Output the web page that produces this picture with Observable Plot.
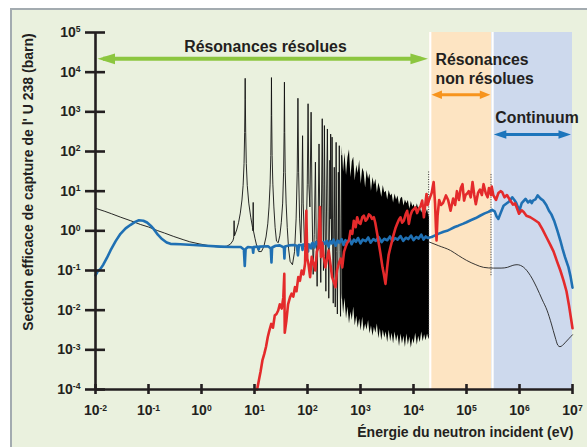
<!DOCTYPE html>
<html><head><meta charset="utf-8">
<script src="https://cdn.jsdelivr.net/npm/d3@7"></script>
<script src="https://cdn.jsdelivr.net/npm/@observablehq/plot@0.6"></script>
<style>
html,body{margin:0;padding:0;background:#fff;}
#bg{position:absolute;left:10px;top:8px;width:577px;height:439px;background:#eaf1de;border-left:2px solid #a3abb0;border-top:2px solid #a3abb0;box-sizing:border-box;}
#chart{position:absolute;left:0;top:0;}
</style></head><body><div id="bg"></div><div id="chart"></div>
<script>
// ---------- ticks ----------
const xTicks = [1e-2, 1e-1, 1e0, 1e1, 1e2, 1e3, 1e4, 1e5, 1e6, 1e7];
const xTickExps = ["-2", "-1", "0", "1", "2", "3", "4", "5", "6", "7"];
const yTicks = [1e-4, 1e-3, 1e-2, 1e-1, 1e0, 1e1, 1e2, 1e3, 1e4, 1e5];
const yTickExps = ["-4", "-3", "-2", "-1", "0", "1", "2", "3", "4", "5"];

// ---------- energy regions ----------
const regionStart = [2e4, 3e5];
const regionEnd = [3e5, 1e7];
const regionFill = ["#fde4c2", "#cdd9ed"];

// ---------- arrows & labels ----------
const arrowFrom = [1e-2, 2e4, 3e5];
const arrowTo = [2e4, 3e5, 1e7];
const arrowAt = [2.17e4, 2.69e3, 268];
const arrowColor = ["#8cc63f", "#f7941d", "#1c75bc"];
const arrowLabel = ["Résonances résolues", "Résonances\nnon résolues", "Continuum"];
const labelX = [16.1, 2.6e4, 3.5e5];
const labelY = [4.5e4, 1.22e4, 723];
const labelAnchor = ["middle", "start", "start"];

// ---------- black curve (U 238 capture) ----------
const blackResolved = [
[0.01,3.7],[0.015,3.1],[0.02,2.7],[0.03,2.2],[0.046,1.8],[0.07,1.45],[0.1,1.25],[0.146,1.02],[0.2,0.88],[0.3,0.72],[0.45,0.6],[0.6,0.53],[0.9,0.47],[1.28,0.43],[1.8,0.4],[2.4,0.39],[3.0,0.41],[3.5,0.46],[3.9,0.56],[4.05,0.66],[4.12,1.8],[4.2,0.75],[4.6,1.05],[5.0,1.6],[5.4,2.8],[5.8,6],[6.1,14],[6.35,50],[6.52,300],[6.62,2000],[6.67,7000],[6.72,2000],[6.82,300],[7.0,50],[7.3,14],[7.8,5],[8.5,2.2],[9.2,1.2],[9.35,1.0],[9.45,5.2],[9.55,1.0],[10.2,0.65],[11,0.42],[12,0.3],[13.5,0.3],[15,0.4],[16.5,0.7],[17.8,1.5],[18.8,4],[19.7,15],[20.3,80],[20.7,800],[20.9,7300],[21.1,800],[21.5,80],[22.2,15],[23.2,4],[24.5,1.2],[26,0.55],[28,0.5],[30,0.75],[32,1.6],[34,5],[35.4,30],[36.2,300],[36.7,5600],[37.2,300],[38,30],[39.5,5],[41.5,1.2],[44,0.35],[47,0.17],[52,0.14],[57,0.3],[61,2],[64,30],[66,2200],[68,30],[71,2],[75,0.5],[78,5],[80.7,250],[83,5],[88,0.4],[94,0.5],[99,15],[102.5,1600],[106,15],[111,4],[116.9,980],[122,4],[128,0.08],[134,0.8],[141,54],[146,0.6],[152,0.04],[159,2],[165,155],[171,1.5],[178,0.05],[185,12],[189.7,670],[195,5],[200,0.1],[205,15],[208.5,450],[214,3],[222,0.03],[230,12],[237.4,370],[244,3],[252,0.02],[262,4],[264,60],[268,2],[273.6,275],[280,2],[285,0.5],[291,230],[298,0.5],[306,0.015],[314,2],[320,40],[327,0.5],[334,0.012],[347,170],[356,0.3],[366,0.008],[378,1],[382,30],[390,0.5],[398,140],[410,0.3],[420,0.007],[430,2],[440,80],[451,0.02]
];
const denseE = [451,480,510,545,580,620,660,700,745,795,850,905,965,1030,1100,1170,1250,1330,1420,1510,1610,1720,1830,1950,2080,2220,2370,2520,2690,2870,3060,3260,3480,3710,3950,4210,4490,4790,5110,5450,5810,6190,6600,7040,7500,8000,8530,9100,9700,10300,11000,11800,12500,13400,14300,15200,16200,17300,18400,19600,20000];
const denseUpper = [133,30,90,25,70,110,22,55,72,18,45,28,60,15,38,30,12,33,20,27,10,22,14,20,9,16,11.4,7,13.9,9,10,6,10.4,7.5,8.5,5,8.5,6,7.5,4.5,6.5,7,4.2,6,4.8,5.8,3.5,5.5,4,4.6,3.2,4.8,3.6,4.0,2.8,3.9,3.3,2.7,3.5,2.2,3.0];
const denseLower = [0.026,0.008,0.02,0.006,0.012,0.0045,0.009,0.0055,0.012,0.004,0.007,0.0035,0.006,0.003,0.0066,0.0028,0.0045,0.0031,0.0055,0.0025,0.004,0.0022,0.0037,0.0026,0.0045,0.0019,0.0034,0.0017,0.0031,0.002,0.0028,0.0015,0.0031,0.0016,0.0026,0.0014,0.0028,0.0016,0.0024,0.0012,0.0025,0.0014,0.0022,0.00115,0.0025,0.0013,0.0021,0.0011,0.0019,0.0014,0.0026,0.0013,0.0022,0.0015,0.0028,0.0016,0.0024,0.0017,0.0025,0.0018,0.0021];
const blackHigh = [
[2e4,0.52],[3e4,0.42],[5e4,0.32],[7e4,0.24],[1e5,0.18],[1.5e5,0.14],[2.1e5,0.12],[3.2e5,0.115],[4.5e5,0.115],[5.9e5,0.12],[7.5e5,0.135],[9e5,0.14],[1.2e6,0.12],[1.6e6,0.075],[2.1e6,0.038],[2.7e6,0.018],[3.3e6,0.01],[4e6,0.0045],[4.7e6,0.0021],[5.3e6,0.0013],[5.8e6,0.0012],[6.5e6,0.0013],[7.2e6,0.0015],[8.5e6,0.0019],[1e7,0.0024]
];
const dottedAt = [2e4, 3e5];
const dottedTop = [33, 28];
const dottedBottom = [0.0023, 0.074];

// ---------- blue curve ----------
const blueCurve = [
[0.01,0.075],[0.011,0.095],[0.0124,0.11],[0.014,0.14],[0.0165,0.21],[0.0192,0.32],[0.024,0.55],[0.0296,0.84],[0.037,1.15],[0.046,1.42],[0.056,1.68],[0.066,1.85],[0.08,1.8],[0.094,1.62],[0.11,1.35],[0.126,1.1],[0.15,0.8],[0.18,0.62],[0.22,0.51],[0.26,0.47],[0.4,0.46],[0.71,0.44],[1.2,0.42],[2.3,0.4],[4,0.39],[5.5,0.39],[6.3,0.34],[6.55,0.13],[6.8,0.35],[7.5,0.39],[9.2,0.38],[9.45,0.28],[9.7,0.39],[11.5,0.4],[12,0.34],[12.5,0.4],[18,0.41],[20.3,0.36],[20.9,0.16],[21.5,0.38],[25,0.42],[30,0.43],[35.9,0.38],[36.7,0.2],[37.6,0.4],[45,0.43],[55,0.44],[63,0.42],[66,0.24],[69,0.44],[78,0.44],[80.7,0.33],[83,0.45],[100,0.42],[102.5,0.3],[105,0.46],[116.9,0.36],[120,0.47],
[125,0.5],[135,0.38],[145,0.52],[160,0.45],[170,0.55],[185,0.36],[200,0.52],[215,0.47],[230,0.56],[250,0.4],[270,0.55],[290,0.48],[310,0.6],[340,0.42],[370,0.57],[400,0.5],[440,0.62],[480,0.44],[520,0.58],[560,0.5],[620,0.64],[680,0.46],[750,0.6],[820,0.53],[900,0.66],[1000,0.48],[1100,0.6],[1250,0.55],[1400,0.68],[1550,0.5],[1750,0.62],[1950,0.56],[2200,0.7],[2500,0.52],[2800,0.63],[3200,0.58],[3600,0.72],[4000,0.55],[4500,0.66],[5000,0.6],[5700,0.74],[6400,0.56],[7200,0.67],[8000,0.62],[9000,0.76],[10000,0.58],[11200,0.7],[12500,0.64],[14000,0.8],[15500,0.6],[17000,0.72],[18500,0.66],[20000,0.68],
[2.2e4,0.7],[2.5e4,0.76],[3e4,0.85],[3.7e4,0.95],[4.3e4,1.0],[5e4,1.1],[6e4,1.25],[7e4,1.35],[8.5e4,1.5],[1e5,1.65],[1.2e5,1.85],[1.5e5,2.1],[1.8e5,2.4],[2.2e5,2.75],[2.6e5,3.0],[3e5,3.4],[3.4e5,3.1],[3.7e5,2.3],[4e5,2.0],[4.4e5,2.8],[5e5,4.3],[5.6e5,4.8],[6.3e5,5.4],[7.3e5,7],[8e5,6.0],[8.6e5,5.2],[9.3e5,4.0],[1e6,3.3],[1.1e6,5.0],[1.3e6,6.4],[1.45e6,5.2],[1.6e6,5.8],[1.7e6,5.0],[1.8e6,5.8],[2e6,6.2],[2.2e6,7.8],[2.5e6,6.5],[2.8e6,5.8],[3.2e6,4.5],[3.6e6,3.2],[4e6,2.6],[4.5e6,1.8],[5.2e6,1.0],[5.9e6,0.57],[6.5e6,0.35],[7.2e6,0.22],[8.4e6,0.12],[9.2e6,0.07],[1e7,0.037]
];

// ---------- red curve ----------
const redCurve = [
[11.2,1e-4],[12.1,1.7e-4],[13,2.8e-4],[14.1,5.4e-4],[15.3,7.9e-4],[16.5,1.2e-3],[17.8,2.1e-3],[19,3e-3],[20.7,4.5e-3],[22.3,3.6e-3],[24.1,7.3e-3],[26,8e-3],[28,9.8e-3],[30,0.014],[32.6,0.011],[35,0.021],[36.5,0.082],[37.2,0.0027],[40,0.0055],[43,0.014],[46.7,0.021],[50,0.026],[54,0.022],[58,0.038],[62,0.03],[67,0.068],[72,0.055],[77.6,0.1],[84,0.08],[90,0.15],[95,3.2],[99,0.2],[104,0.15],[112,0.068],[120,0.22],[130,0.15],[140,0.1],[150,0.3],[162,0.39],[172,4],[180,0.22],[190,0.5],[202,0.22],[217,0.12],[235,0.2],[251,0.32],[270,0.15],[291,0.068],[315,0.05],[337,0.038],[360,0.1],[390,0.15],[420,0.2],[452,0.12],[490,0.3],[523,0.39],[560,0.5],[606,0.57],[647,1.0],[701,0.84],[748,1.8],[812,1.24],[865,2.2],[930,1.6],[1000,1.5],[1080,2.2],[1157,2.4],[1250,1.8],[1337,2.0],[1440,2.6],[1545,2.4],[1650,2.0],[1787,2.2],[1900,1.6],[2065,0.84],[2385,0.26],[2600,0.12],[2755,0.082],[2960,0.046],[3185,0.12],[3400,0.25],[3683,0.39],[4000,0.6],[4257,0.84],[4600,1.2],[4922,1.5],[5300,1.9],[5690,2.2],[6100,1.6],[6577,1.8],[7100,2.6],[7603,3.2],[8175,1.5],[8800,2.5],[9445,3.2],[10900,3.9],[11700,2.8],[12600,3.6],[13600,4.2],[14600,5.8],[15700,2.2],[16800,5],[17600,8.5],[18500,4.5],[19500,5.8],[20500,7],[22000,9],[24000,17],[25500,5],[26500,1.2],[27200,0.57],[28500,2.5],[30500,6],[33000,4.5],[36000,5],[41000,7.8],[45000,6],[50000,3.2],[56000,6.5],[61000,4.5],[66000,10],[72000,6],[78000,12],[84000,15],[90000,5.8],[96000,8],[1.05e5,9],[1.1e5,10],[1.2e5,7],[1.3e5,17],[1.4e5,8],[1.5e5,4.7],[1.65e5,9],[1.8e5,11],[1.95e5,8],[2.1e5,15],[2.3e5,9],[2.5e5,7],[2.65e5,12],[2.8e5,10],[2.9e5,8],
[3e5,13],[3.2e5,8],[3.6e5,6],[4e5,9],[4.4e5,10],[4.7e5,9.5],[5.2e5,7],[5.8e5,8],[6.7e5,5.8],[7.5e5,4.6],[8.3e5,4.9],[9.8e5,2.7],[1.1e6,3.3],[1.2e6,3.0],[1.35e6,2.4],[1.6e6,2.2],[1.9e6,1.9],[2.3e6,1.6],[2.7e6,1.1],[3.3e6,0.65],[3.8e6,0.45],[4.4e6,0.3],[5.1e6,0.17],[5.9e6,0.1],[6.8e6,0.055],[7.7e6,0.03],[8.6e6,0.013],[9.5e6,0.0055],[1e7,0.0035]
];

// ---------- build ----------
const ink = "#231f20";
const denseBand = denseE.map((e, i) => ({E: e, lo: denseLower[i], hi: denseUpper[i]}));
const idx2 = [0, 1];
const idx3 = [0, 1, 2];
const head = (len, half, dir) => ({draw(ctx) {
  ctx.moveTo(0, 0); ctx.lineTo(dir * len, -half); ctx.lineTo(dir * len, half); ctx.closePath();
}});
const headSizes = [[17.5, 5.4, 4], [10.5, 4.2, 3], [12.5, 4.3, 3]];

const arrowMarks = idx3.flatMap(i => [
  Plot.ruleY([i], {y: d => arrowAt[d], x1: d => arrowFrom[d], x2: d => arrowTo[d], stroke: arrowColor[i], strokeWidth: headSizes[i][2], insetLeft: 8, insetRight: 8}),
  Plot.dot([i], {x: d => arrowFrom[d], y: d => arrowAt[d], symbol: head(headSizes[i][0], headSizes[i][1], 1), r: 3, fill: arrowColor[i], stroke: "none", dx: 2}),
  Plot.dot([i], {x: d => arrowTo[d], y: d => arrowAt[d], symbol: head(headSizes[i][0], headSizes[i][1], -1), r: 3, fill: arrowColor[i], stroke: "none", dx: -1.5}),
  Plot.text([i], {x: d => labelX[d], y: d => labelY[d], text: d => arrowLabel[d], textAnchor: labelAnchor[i], fontSize: 15.8, fontWeight: "bold", fill: ink, lineHeight: 1.17})
]);

const plot = Plot.plot({
  width: 587, height: 447,
  marginLeft: 95, marginRight: 15, marginTop: 32, marginBottom: 58,
  style: {background: "transparent", fontFamily: "'Liberation Sans', Arial, Helvetica, sans-serif", overflow: "visible"},
  x: {type: "log", domain: [1e-2, 1e7]},
  y: {type: "log", domain: [1e-4, 1e5]},
  marks: [
    Plot.rect(idx2, {x1: i => regionStart[i], x2: i => regionEnd[i], y1: 1e-4, y2: 1e5, fill: i => regionFill[i]}),
    Plot.ruleX(idx2, {x: i => regionStart[i], y1: 1e-4, y2: 1e5, stroke: "#ffffff", strokeWidth: 2.2, dx: 0.8}),
    Plot.areaY(denseBand, {x: "E", y1: "lo", y2: "hi", fill: "#000", curve: "linear"}),
    Plot.line(blackResolved, {x: d => d[0], y: d => d[1], stroke: "#111", strokeWidth: 0.9}),
    Plot.line(blackHigh, {x: d => d[0], y: d => d[1], stroke: "#222", strokeWidth: 0.9, curve: "monotone-x"}),
    Plot.ruleX(idx2, {x: i => dottedAt[i], y1: i => dottedBottom[i], y2: i => dottedTop[i], stroke: "#333", strokeWidth: 1, strokeDasharray: "1,1.5", dx: -0.8}),
    Plot.line(blueCurve, {x: d => d[0], y: d => d[1], stroke: "#1f70b3", strokeWidth: 2.6, strokeLinejoin: "round"}),
    Plot.line(redCurve, {x: d => d[0], y: d => d[1], stroke: "#e42a2b", strokeWidth: 2.6, strokeLinejoin: "round"}),
    Plot.ruleX([1e-2], {y1: 1e-4, y2: 1e5, stroke: ink, strokeWidth: 2.6}),
    Plot.ruleY([1e-4], {x1: 1e-2, x2: 1e7, stroke: ink, strokeWidth: 2.6}),
    Plot.axisY({ticks: yTicks, tickSize: 20, dx: 10, tickFormat: () => "", stroke: ink, strokeWidth: 2.6, label: null}),
    Plot.axisY({ticks: yTicks, tickSize: 0, tickPadding: 15, tickFormat: d => yTickExps[yTicks.indexOf(d)], fontSize: 14, fontWeight: "bold", fill: ink, label: null}),
    Plot.axisX({ticks: xTicks, tickSize: 10, dy: -5, tickFormat: () => "", stroke: ink, strokeWidth: 2.6, label: null}),
    Plot.axisX({ticks: xTicks, tickSize: 0, tickPadding: 16, tickFormat: d => xTickExps[xTicks.indexOf(d)], fontSize: 14, fontWeight: "bold", fill: ink, label: null}),
    ...arrowMarks,
    Plot.text(["Énergie du neutron incident (eV)"], {frameAnchor: "bottom-right", textAnchor: "end", lineAnchor: "middle", dx: 1, dy: 43.5, fontSize: 14, fontWeight: "bold", fill: ink}),
    Plot.text(["Section efficace de capture de l' U 238 (barn)"], {frameAnchor: "left", textAnchor: "middle", lineAnchor: "middle", rotate: -90, dx: -67, dy: -29, fontSize: 14, fontWeight: "bold", fill: ink})
  ]
});

// superscript exponents on tick labels
d3.select(plot).selectAll('g[aria-label="x-axis tick label"] text, g[aria-label="y-axis tick label"] text').each(function() {
  const t = d3.select(this);
  const exp = t.text();
  if (!exp) return;
  t.text("10");
  t.append("tspan").attr("dy", "-4.6").attr("font-size", "8.6").text(exp);
});

document.getElementById("chart").appendChild(plot);
</script>
</body></html>
